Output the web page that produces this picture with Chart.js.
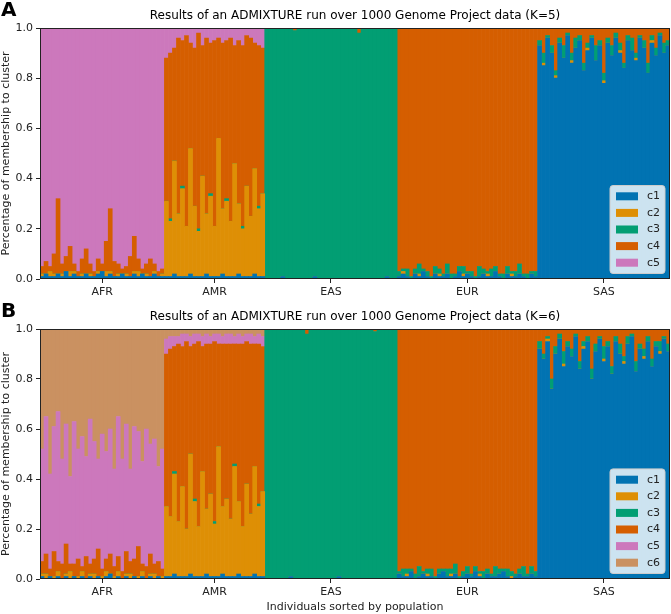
<!DOCTYPE html>
<html>
<head>
<meta charset="utf-8">
<script src="https://cdn.jsdelivr.net/npm/chart.js@4.4.1/dist/chart.umd.min.js"></script>
<style>
  html, body { margin: 0; padding: 0; background: #fff; }
  #fig { position: relative; width: 671px; height: 614px; overflow: hidden; }
  .panel { position: absolute; left: 0; width: 671px; }
  #panelA { top: 0; height: 301px; }
  #panelB { top: 301px; height: 313px; }
  .tag { position: absolute; left: 1px; font: bold 20px 'DejaVu Sans', sans-serif; line-height: normal; color: #000; }
</style>
</head>
<body>
<div id="fig">
  <div class="panel" id="panelA"><canvas id="chartA"></canvas></div>
  <div class="panel" id="panelB"><canvas id="chartB"></canvas></div>
  <div class="tag" style="top:-3px">A</div>
  <div class="tag" style="top:298px">B</div>
</div>
<script>
// populations and how many individuals (bars) each one has, in plot order
var populations = ['AFR', 'AMR', 'EAS', 'EUR', 'SAS'];
var popSizes = [31, 25, 33, 35, 33];

var clusterNames5 = ['c1', 'c2', 'c3', 'c4', 'c5'];
var clusterNames6 = ['c1', 'c2', 'c3', 'c4', 'c5', 'c6'];
var clusterColors = ['#0173b2', '#de8f05', '#029e73', '#d55e00', '#cc78bc', '#ca9161'];

// ---- K=5 membership fractions, one value per individual ----
var k5c1 = [
  .01,.02,.01,.01,.02,.01,.03,.01,.02,.01, .01,.02,.01,.01,.02,.03,.01,.02,.01,.01, .02,.01,.01,.02,.01,.02,.01,.01,.02,.01, .01, // AFR
  .01,.01,.02,.01,.01,.01,.02,.01,.01,.01, .02,.01,.01,.01,.02,.01,.01,.01,.02,.01, .01,.01,.02,.01,.01, // AMR
  0,0,0,0,.01,0,0,0,0,0, 0,0,.01,0,0,0,0,0,0,0, 0,0,0,0,0,0,0,0,0,0, .01,0,0, // EAS
  .01,.02,.01,0,.02,.01,.03,.01,0,.02, .01,.01,.02,0,.01,.03,.01,.02,.01,0, .01,.02,.01,.01,.03,.01,0,.02,.01,.01, .02,.01,0,.02,.01, // EUR
  .93,.85,.96,.90,.80,.94,.88,.97,.86,.92, .95,.83,.91,.96,.87,.93,.78,.94,.89,.96, .90,.84,.95,.91,.87,.96,.92,.82,.94,.89, .97,.90,.93 // SAS
];
var k5c2 = [
  .01,0,.02,.01,0,.01,0,.02,.01,0, .01,0,.01,0,.01,0,.02,.01,0,.01, 0,.01,0,.01,.02,0,.01,0,.01,0, .01,
  .30,.22,.45,.25,.35,.20,.50,.28,.18,.40, .24,.32,.20,.55,.26,.30,.22,.45,.28,.19, .36,.24,.42,.27,.33,
  0,0,0,0,0,0,0,0,0,0, 0,0,0,0,0,0,0,0,0,0, 0,0,0,0,0,0,0,0,0,0, 0,0,0,
  0,.01,0,0,0,.01,0,0,0,0, .01,0,0,0,0,0,.01,0,0,0, 0,0,.01,0,0,0,0,0,.01,0, 0,0,0,0,0,
  0,.01,0,0,.01,0,0,0,.01,0, 0,0,.01,0,0,0,.01,0,0,0, .01,0,0,0,.01,0,0,0,.01,0, 0,0,0
];
var k5c3 = [
  0,0,0,0,0,0,0,0,0,0, 0,0,0,0,0,0,0,0,0,0, 0,0,0,0,0,0,0,0,0,0, 0,
  0,.01,0,0,.01,0,0,0,.01,0, 0,.01,0,0,0,.01,0,0,0,.01, 0,0,0,.01,0,
  1,1,1,1,.99,1,1,.99,1,1, 1,1,.99,1,1,1,1,1,1,1, 1,1,1,.98,1,1,1,1,1,1, .99,1,1,
  .02,.01,.03,.01,.02,.04,.01,.02,.01,.03, .02,.01,.04,.02,.01,.02,.03,.01,.02,.01, .04,.02,.01,.03,.02,.01,.02,.03,.01,.02, .04,.01,.02,.01,.02,
  .02,.04,.01,.03,.02,.02,.05,.01,.03,.04, .02,.03,.02,.01,.06,.02,.03,.02,.04,.02, .03,.02,.02,.05,.02,.01,.03,.04,.02,.03, .01,.04,.02
];
var k5c4 = [
  .03,.05,.02,.08,.30,.04,.06,.10,.03,.02, .06,.10,.04,.02,.05,.03,.12,.25,.06,.04, .02,.03,.08,.14,.05,.02,.04,.07,.03,.02, .02,
  .57,.66,.45,.70,.58,.76,.42,.63,.78,.52, .70,.60,.74,.40,.66,.63,.73,.47,.65,.72, .60,.71,.50,.64,.58,
  0,0,0,0,0,0,0,.01,0,0, 0,0,0,0,0,0,0,0,0,0, 0,0,0,.02,0,0,0,0,0,0, 0,0,0,
  .97,.96,.96,.99,.96,.94,.96,.97,.99,.95, .96,.98,.94,.98,.98,.95,.95,.97,.97,.99, .95,.96,.97,.96,.95,.98,.98,.95,.97,.97, .94,.98,.98,.97,.97,
  .05,.10,.03,.07,.17,.04,.07,.02,.10,.04, .03,.14,.06,.03,.07,.05,.18,.04,.07,.02, .06,.14,.03,.04,.10,.03,.05,.14,.03,.08, .02,.06,.05
];
var k5c5 = [
  .95,.93,.95,.90,.68,.94,.91,.87,.94,.97, .92,.88,.94,.97,.92,.94,.85,.72,.93,.94, .96,.95,.91,.83,.92,.96,.94,.92,.94,.97, .96,
  .12,.10,.08,.04,.05,.03,.06,.08,.02,.07, .04,.06,.05,.04,.06,.05,.04,.07,.05,.07, .03,.04,.06,.07,.08,
  0,0,0,0,0,0,0,0,0,0, 0,0,0,0,0,0,0,0,0,0, 0,0,0,0,0,0,0,0,0,0, 0,0,0,
  0,0,0,0,0,0,0,0,0,0, 0,0,0,0,0,0,0,0,0,0, 0,0,0,0,0,0,0,0,0,0, 0,0,0,0,0,
  0,0,0,0,0,0,0,0,0,0, 0,0,0,0,0,0,0,0,0,0, 0,0,0,0,0,0,0,0,0,0, 0,0,0
];

// ---- K=6 membership fractions ----
var k6c1 = [
  .01,0,.01,0,.01,0,.01,0,.01,0, .01,0,.01,0,.01,0,.01,.02,0,.01, 0,.01,0,.01,0,.01,0,.01,0,.01, 0,
  .01,.01,.02,.01,.01,.01,.02,.01,.01,.01, .02,.01,.01,.01,.02,.01,.01,.01,.02,.01, .01,.01,.02,.01,.01,
  0,0,0,0,0,0,.01,0,0,0, 0,0,0,0,0,0,0,0,.01,0, 0,0,0,0,0,0,0,0,0,0, 0,0,0,
  .02,.01,.01,.03,0,.01,.02,.01,.01,0, .02,.03,.01,.01,.02,0,.01,.02,.01,.03, .01,0,.02,.01,.01,.02,.03,.01,0,.01, .02,.01,.01,.02,.01,
  .92,.88,.95,.76,.90,.96,.85,.93,.89,.97, .84,.92,.95,.80,.91,.96,.87,.93,.82,.95, .90,.86,.94,.97,.83,.92,.88,.95,.85,.93, .90,.96,.91
];
var k6c2 = [
  .01,.02,0,.01,.02,0,.01,.03,0,.01, .02,0,.01,.02,0,.01,.02,0,.01,.02, 0,.01,.02,0,.01,.02,0,.01,.02,0, .01,
  .28,.24,.40,.22,.36,.19,.48,.30,.20,.42, .26,.33,.21,.52,.27,.31,.23,.44,.29,.20, .37,.25,.43,.28,.34,
  0,0,0,0,0,0,0,0,0,0, 0,0,0,0,0,0,0,0,0,0, 0,0,0,0,0,0,0,0,0,0, 0,0,0,
  0,0,.01,0,0,0,0,.01,0,0, 0,0,0,.01,0,0,0,0,0,0, .01,0,0,0,0,0,0,0,.01,0, 0,0,0,0,0,
  0,0,.01,0,0,0,.01,0,0,0, 0,.01,0,0,0,0,.01,0,0,0, 0,.01,0,0,0,0,.01,0,0,0, .01,0,0
];
var k6c3 = [
  0,0,0,0,0,0,0,0,0,0, 0,0,0,0,0,0,0,0,0,0, 0,0,0,0,0,0,0,0,0,0, 0,
  0,0,.01,0,0,0,0,.01,0,0, 0,0,.01,0,0,0,0,.01,0,0, 0,0,0,.01,0,
  1,1,1,1,1,1,.99,1,1,1, .98,1,1,1,1,1,1,1,.99,1, 1,1,1,1,1,1,1,.99,1,1, 1,1,1,
  .01,.03,.02,.01,.02,.04,.01,.02,.03,.01, .02,.01,.03,.02,.04,.01,.02,.03,.01,.02, .01,.03,.02,.01,.04,.02,.01,.03,.02,.01, .02,.04,.01,.03,.02,
  .03,.02,.01,.04,.03,.02,.05,.02,.03,.01, .03,.02,.02,.04,.03,.01,.05,.02,.03,.02, .04,.02,.03,.01,.04,.02,.03,.02,.03,.02, .04,.01,.03
];
var k6c4 = [
  .05,.08,.03,.10,.04,.06,.12,.03,.05,.07, .02,.09,.04,.06,.11,.03,.05,.08,.04,.06, .03,.09,.05,.07,.12,.03,.05,.08,.04,.06, .03,
  .61,.67,.50,.71,.56,.75,.43,.62,.74,.50, .66,.60,.72,.41,.65,.62,.70,.48,.63,.73, .57,.68,.49,.64,.58,
  0,0,0,0,0,0,0,0,0,0, .02,0,0,0,0,0,0,0,0,0, 0,0,0,0,0,0,0,.01,0,0, 0,0,0,
  .97,.96,.96,.96,.98,.95,.97,.96,.96,.99, .96,.96,.96,.96,.94,.99,.97,.95,.98,.95, .97,.97,.96,.98,.95,.96,.96,.96,.97,.98, .96,.95,.98,.95,.97,
  .05,.10,.03,.20,.07,.02,.09,.05,.08,.02, .13,.05,.03,.16,.06,.03,.07,.05,.15,.03, .06,.11,.03,.02,.13,.06,.08,.03,.12,.05, .05,.03,.06
];
var k6c5 = [
  .45,.55,.38,.50,.60,.42,.48,.35,.57,.44, .52,.40,.58,.47,.36,.54,.43,.50,.39,.56, .45,.51,.37,.53,.46,.41,.55,.44,.50,.38, .48,
  .06,.05,.04,.03,.05,.03,.04,.04,.03,.04, .04,.03,.03,.04,.03,.04,.04,.03,.04,.03, .03,.04,.03,.04,.04,
  0,0,0,0,0,0,0,0,0,0, 0,0,0,0,0,0,0,0,0,0, 0,0,0,0,0,0,0,0,0,0, 0,0,0,
  0,0,0,0,0,0,0,0,0,0, 0,0,0,0,0,0,0,0,0,0, 0,0,0,0,0,0,0,0,0,0, 0,0,0,0,0,
  0,0,0,0,0,0,0,0,0,0, 0,0,0,0,0,0,0,0,0,0, 0,0,0,0,0,0,0,0,0,0, 0,0,0
];
var k6c6 = [
  .48,.35,.58,.39,.33,.52,.38,.59,.37,.48, .43,.51,.36,.45,.52,.42,.49,.40,.56,.35, .52,.38,.56,.39,.41,.53,.40,.46,.44,.55, .48,
  .04,.03,.03,.03,.02,.02,.03,.02,.02,.03, .02,.03,.02,.02,.03,.02,.02,.03,.02,.03, .02,.02,.03,.02,.03,
  0,0,0,0,0,0,0,0,0,0, 0,0,0,0,0,0,0,0,0,0, 0,0,0,0,0,0,0,0,0,0, 0,0,0,
  0,0,0,0,0,0,0,0,0,0, 0,0,0,0,0,0,0,0,0,0, 0,0,0,0,0,0,0,0,0,0, 0,0,0,0,0,
  0,0,0,0,0,0,0,0,0,0, 0,0,0,0,0,0,0,0,0,0, 0,0,0,0,0,0,0,0,0,0, 0,0,0
];

Chart.defaults.font.family = "'DejaVu Sans', sans-serif";
Chart.defaults.color = '#222';

// one label per individual; the middle individual of each population carries the tick
var individuals = [];
var tickAt = {};
var start = 0;
popSizes.forEach(function (n, p) {
    for (var i = 0; i < n; i++) individuals.push(populations[p] + ' ' + (i + 1));
    tickAt[start + (n - 1) / 2] = populations[p];
    start += n;
});

// axes frame + legend in the lower right corner of the plot
var framePlugin = {
    id: 'frameAndLegend',
    afterDraw: function (chart) {
        var ctx = chart.ctx, a = chart.chartArea;
        ctx.save();
        ctx.strokeStyle = '#222';
        ctx.lineWidth = 1;
        ctx.strokeRect(a.left + 0.5, a.top + 0.5, a.right - a.left - 1, a.bottom - a.top - 1);

        var sets = chart.data.datasets;
        var rowH = 16.6, boxW = 55, boxH = sets.length * rowH + 5;
        var x0 = a.right - 5 - boxW, y0 = a.bottom - 5.5 - boxH;
        ctx.beginPath();
        ctx.roundRect(x0, y0, boxW, boxH, 3);
        ctx.fillStyle = 'rgba(255,255,255,0.8)';
        ctx.fill();
        ctx.strokeStyle = '#cccccc';
        ctx.stroke();
        ctx.font = "11px 'DejaVu Sans'";
        ctx.textBaseline = 'middle';
        sets.forEach(function (ds, i) {
            var cy = y0 + 2.5 + rowH * (i + 0.5);
            ctx.fillStyle = ds.backgroundColor;
            ctx.fillRect(x0 + 6, cy - 4, 22, 8);
            ctx.fillStyle = '#222';
            ctx.fillText(ds.label, x0 + 37, cy);
        });
        ctx.restore();
    }
};

function drawPanel(canvasId, series, names, title, xTitle, xAxisHeight) {
    var datasets = series.map(function (values, i) {
        return {
            label: names[i],
            data: values,
            backgroundColor: clusterColors[i],
            borderWidth: 0,
            barPercentage: 1,
            categoryPercentage: 1
        };
    });

    new Chart(document.getElementById(canvasId), {
        type: 'bar',
        data: { labels: individuals, datasets: datasets },
        options: {
            responsive: true,
            maintainAspectRatio: false,
            animation: false,
            layout: { padding: { left: 0, right: 1, top: 0, bottom: 0 } },
            plugins: {
                legend: { display: false },
                tooltip: { enabled: false },
                title: {
                    display: true,
                    text: title,
                    fullSize: false,
                    color: '#000',
                    font: { size: 12, weight: 'normal' },
                    padding: { top: 9, bottom: 4.6 }
                }
            },
            scales: {
                x: {
                    type: 'category',
                    stacked: true,
                    offset: true,
                    afterFit: function (s) { s.height = xAxisHeight; },
                    ticks: {
                        autoSkip: false,
                        maxRotation: 0,
                        minRotation: 0,
                        padding: 3,
                        font: { size: 11 },
                        callback: function (v, i) { return tickAt[i] || ''; }
                    },
                    grid: {
                        offset: false,
                        drawOnChartArea: false,
                        tickLength: 4,
                        color: function (c) { return tickAt[c.index] ? '#222' : 'rgba(0,0,0,0)'; }
                    },
                    border: { display: false },
                    title: {
                        display: !!xTitle,
                        text: xTitle,
                        font: { size: 11 },
                        padding: { top: 0, bottom: 0 }
                    }
                },
                y: {
                    stacked: true,
                    min: 0,
                    max: 1,
                    afterFit: function (s) { s.width = 40; },
                    ticks: {
                        stepSize: 0.2,
                        padding: 3,
                        font: { size: 11 },
                        callback: function (v) { return v.toFixed(1); }
                    },
                    grid: { drawOnChartArea: false, tickLength: 4, color: '#222' },
                    border: { display: false },
                    title: {
                        display: true,
                        text: 'Percentage of membership to cluster',
                        font: { size: 11 },
                        padding: 0
                    }
                }
            }
        },
        plugins: [framePlugin]
    });
}

drawPanel('chartA', [k5c1, k5c2, k5c3, k5c4, k5c5], clusterNames5,
    'Results of an ADMIXTURE run over 1000 Genome Project data (K=5)', '', 22);
drawPanel('chartB', [k6c1, k6c2, k6c3, k6c4, k6c5, k6c6], clusterNames6,
    'Results of an ADMIXTURE run over 1000 Genome Project data (K=6)',
    'Individuals sorted by population', 35);
</script>
</body>
</html>
